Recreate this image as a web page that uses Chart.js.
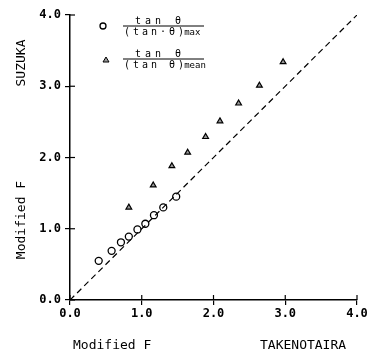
<!DOCTYPE html>
<html>
<head>
<meta charset="utf-8">
<script src="https://cdn.jsdelivr.net/npm/chart.js@4/dist/chart.umd.min.js"></script>
<style>
  html, body { margin: 0; padding: 0; background: #fff; }
  #wrap { position: relative; width: 367px; height: 358px; }
</style>
</head>
<body>
<div id="wrap"><canvas id="c" width="367" height="358"></canvas></div>
<script>
// Data
const maxX = [0.40, 0.58, 0.71, 0.82, 0.94, 1.05, 1.17, 1.30, 1.48];
const maxY = [0.55, 0.69, 0.81, 0.89, 0.99, 1.07, 1.19, 1.30, 1.45];
const meanX = [0.82, 1.16, 1.42, 1.64, 1.89, 2.09, 2.35, 2.64, 2.97];
const meanY = [1.30, 1.61, 1.88, 2.07, 2.29, 2.51, 2.76, 3.01, 3.34];
const refLine = [0, 4];
const tickValues = [0, 1, 2, 3, 4];

const MONO = '"DejaVu Sans Mono", "Liberation Mono", monospace';

const toPts = (xs, ys) => xs.map((x, i) => ({ x: x, y: ys[i] }));

const innerTicks = {
  id: 'innerTicks',
  afterDatasetsDraw(chart) {
    const ctx = chart.ctx;
    const xs = chart.scales.x, ys = chart.scales.y;
    ctx.save();
    ctx.strokeStyle = '#000';
    ctx.lineWidth = 1.2;
    tickValues.forEach(v => {
      const px = xs.getPixelForValue(v);
      ctx.beginPath();
      ctx.moveTo(px, ys.bottom);
      ctx.lineTo(px, ys.bottom - 5);
      ctx.stroke();
      const py = ys.getPixelForValue(v);
      ctx.beginPath();
      ctx.moveTo(xs.left, py);
      ctx.lineTo(xs.left + 5, py);
      ctx.stroke();
    });
    ctx.restore();
  }
};

const labels = {
  id: 'labels',
  afterDraw(chart) {
    const ctx = chart.ctx;
    ctx.save();
    ctx.fillStyle = '#000';
    ctx.font = '13px ' + MONO;
    ctx.textBaseline = 'middle';
    // bottom texts
    ctx.textAlign = 'left';
    ctx.fillText('Modified F', 73, 346);
    ctx.fillText('TAKENOTAIRA', 260, 346);
    // left vertical texts
    ctx.save();
    ctx.translate(22, 63);
    ctx.rotate(-Math.PI / 2);
    ctx.textAlign = 'center';
    ctx.fillText('SUZUKA', 0, 0);
    ctx.restore();
    ctx.save();
    ctx.translate(22, 220);
    ctx.rotate(-Math.PI / 2);
    ctx.textAlign = 'center';
    ctx.fillText('Modified F', 0, 0);
    ctx.restore();

    // legend
    const drawFrac = (lineY, numY, denY, sub) => {
      ctx.font = '10px ' + MONO;
      ctx.textAlign = 'center';
      ctx.letterSpacing = '4px';
      ctx.fillText('tan θ', 160, numY);
      ctx.beginPath();
      ctx.lineWidth = 1;
      ctx.strokeStyle = '#000';
      ctx.moveTo(123, lineY);
      ctx.lineTo(204, lineY);
      ctx.stroke();
      ctx.textAlign = 'left';
      ctx.letterSpacing = '3px';
      const main = sub === 'max' ? '(tan·θ)' : '(tan θ)';
      ctx.fillText(main, 124, denY);
      const w = ctx.measureText(main).width;
      ctx.letterSpacing = '0px';
      ctx.font = '9px ' + MONO;
      ctx.fillText(sub, 124 + w - 3, denY + 1);
    };
    // circle marker
    ctx.beginPath();
    ctx.lineWidth = 1.3;
    ctx.strokeStyle = '#000';
    ctx.arc(103, 26, 3, 0, Math.PI * 2);
    ctx.stroke();
    drawFrac(26, 21, 32, 'max');
    // triangle marker
    ctx.beginPath();
    ctx.moveTo(106, 57);
    ctx.lineTo(109, 62);
    ctx.lineTo(103, 62);
    ctx.closePath();
    ctx.fillStyle = 'rgba(0,0,0,0.4)';
    ctx.fill();
    ctx.stroke();
    ctx.fillStyle = '#000';
    drawFrac(59, 54, 65, 'mean');
    ctx.restore();
  }
};

new Chart(document.getElementById('c'), {
  type: 'scatter',
  data: {
    datasets: [
      {
        label: 'tan θ / (tan θ)max',
        data: toPts(maxX, maxY),
        pointStyle: 'circle',
        pointRadius: 3.5,
        borderColor: '#000',
        backgroundColor: 'rgba(0,0,0,0)',
        borderWidth: 1.3
      },
      {
        label: 'tan θ / (tan θ)mean',
        data: toPts(meanX, meanY),
        pointStyle: 'triangle',
        pointRadius: 3.3,
        borderColor: '#000',
        backgroundColor: 'rgba(0,0,0,0.4)',
        borderWidth: 1.2
      },
      {
        label: '1:1',
        type: 'line',
        data: toPts(refLine, refLine),
        borderColor: '#000',
        borderWidth: 1.2,
        borderDash: [6, 4],
        pointRadius: 0,
        fill: false
      }
    ]
  },
  options: {
    responsive: false,
    animation: false,
    devicePixelRatio: 1,
    layout: { padding: { left: 0, top: 15, right: 10, bottom: 0 } },
    plugins: { legend: { display: false }, tooltip: { enabled: false } },
    scales: {
      x: {
        type: 'linear',
        min: 0, max: 4,
        afterFit(s) { s.height = 58; s.paddingRight = 0; s.paddingLeft = 0; },
        afterBuildTicks(s) { s.ticks = tickValues.map(v => ({ value: v })); },
        border: { display: true, color: '#000', width: 1.5 },
        grid: { display: true, drawOnChartArea: false, drawTicks: true, tickLength: 5, color: '#000', lineWidth: 1.2 },
        ticks: {
          padding: 2,
          color: '#000',
          font: { family: MONO, size: 12, weight: 'bold' },
          callback: v => v.toFixed(1),
          maxRotation: 0
        }
      },
      y: {
        type: 'linear',
        min: 0, max: 4,
        afterFit(s) { s.width = 70; s.paddingTop = 0; s.paddingBottom = 0; },
        afterBuildTicks(s) { s.ticks = tickValues.map(v => ({ value: v })); },
        border: { display: true, color: '#000', width: 1.5 },
        grid: { display: true, drawOnChartArea: false, drawTicks: true, tickLength: 5, color: '#000', lineWidth: 1.2 },
        ticks: {
          padding: 4,
          color: '#000',
          font: { family: MONO, size: 12, weight: 'bold' },
          callback: v => v.toFixed(1)
        }
      }
    }
  },
  plugins: [innerTicks, labels]
});
</script>
</body>
</html>
